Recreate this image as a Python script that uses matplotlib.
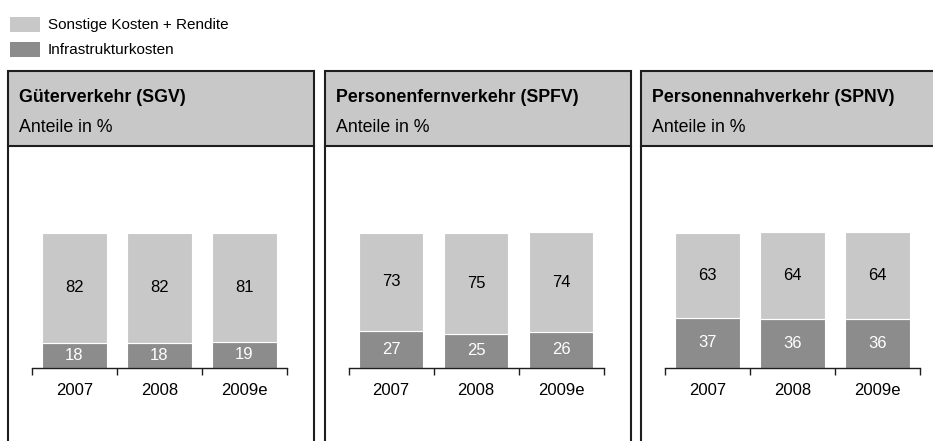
import matplotlib
matplotlib.use("Agg")
import matplotlib.pyplot as plt
from matplotlib.patches import Rectangle
from matplotlib.lines import Line2D

plt.rcParams['font.family'] = ['Liberation Sans', 'DejaVu Sans']

# data
years = ['2007', '2008', '2009e']
panel_titles = ['Güterverkehr (SGV)', 'Personenfernverkehr (SPFV)', 'Personennahverkehr (SPNV)']
infra = [[18, 18, 19], [27, 25, 26], [37, 36, 36]]
sonstige = [[82, 82, 81], [73, 75, 74], [63, 64, 64]]
legend_labels = ['Sonstige Kosten + Rendite', 'Infrastrukturkosten']

light = '#c8c8c8'
dark = '#8c8c8c'
edge = '#1e1e1e'

W, H = 933, 441
fig = plt.figure(figsize=(W / 100, H / 100), dpi=100)


def fx(x):
    return x / W


def fy(y):
    # y in pixels from top
    return 1 - y / H


# legend
for i, (lab, col) in enumerate(zip(legend_labels, [light, dark])):
    y0 = 17 + i * 25
    fig.add_artist(Rectangle((fx(10), fy(y0 + 15)), fx(30), 15 / H,
                             facecolor=col, edgecolor='none', transform=fig.transFigure))
    fig.text(fx(48), fy(y0 + 7.5), lab, fontsize=11, va='center', ha='left')

panel_left = [8, 324.5, 641]
panel_w = 306
for p in range(3):
    x0 = panel_left[p]
    # header box
    fig.add_artist(Rectangle((fx(x0), fy(146)), fx(panel_w), 75.5 / H,
                             facecolor=light, edgecolor=edge, lw=1.5,
                             transform=fig.transFigure))
    for xx in (x0, x0 + panel_w):
        fig.add_artist(Line2D([fx(xx), fx(xx)], [fy(146), fy(445)], color=edge, lw=1.5,
                              transform=fig.transFigure))
    fig.text(fx(x0 + 11), fy(97), panel_titles[p], fontsize=12.8, fontweight='bold',
             va='center', ha='left')
    fig.text(fx(x0 + 11), fy(127), 'Anteile in %', fontsize=12.8, va='center', ha='left')

    # bar axes
    ax = fig.add_axes([fx(x0 + 24), fy(367.5), fx(255), 135 / H])
    xs = range(len(years))
    ax.bar(xs, infra[p], width=0.76, color=dark, edgecolor='white', lw=0.8)
    ax.bar(xs, sonstige[p], width=0.76, bottom=infra[p], color=light, edgecolor='white', lw=0.8)
    for i in xs:
        ax.text(i, infra[p][i] / 2, str(infra[p][i]), ha='center', va='center',
                color='white', fontsize=12)
        ax.text(i, infra[p][i] + sonstige[p][i] / 2, str(sonstige[p][i]), ha='center',
                va='center', color='black', fontsize=12)
    ax.set_xlim(-0.5, 2.5)
    ax.set_ylim(0, 100)
    ax.set_xticks(list(xs))
    ax.set_xticklabels(years, fontsize=12)
    ax.tick_params(axis='x', which='major', length=0, pad=11)
    ax.set_xticks([-0.5, 0.5, 1.5, 2.5], minor=True)
    ax.tick_params(axis='x', which='minor', length=5, width=1, color=edge)
    ax.set_yticks([])
    for s in ('top', 'left', 'right'):
        ax.spines[s].set_visible(False)
    ax.spines['bottom'].set_color(edge)
    ax.spines['bottom'].set_linewidth(1)
    ax.patch.set_alpha(0)

fig.savefig('out.png', dpi=100)
